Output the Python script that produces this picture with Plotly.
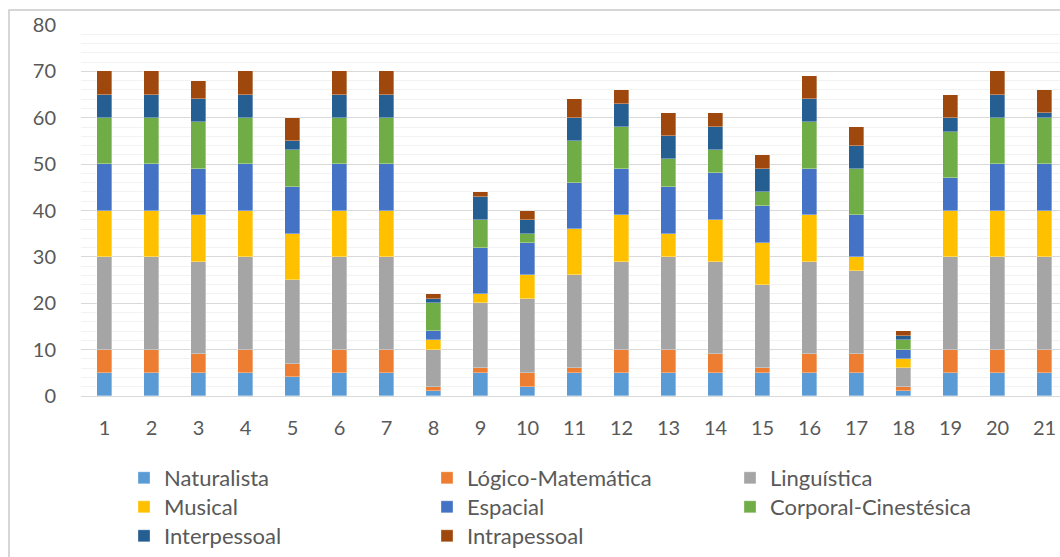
import plotly.graph_objects as go

# Respondentes (1..21) e pontuação por tipo de inteligência
categorias = list(range(1, 22))
rotulos_x = [str(c) for c in categorias]

naturalista = [5, 5, 5, 5, 4, 5, 5, 1, 5, 2, 5, 5, 5, 5, 5, 5, 5, 1, 5, 5, 5]
logico_matematica = [5, 5, 4, 5, 3, 5, 5, 1, 1, 3, 1, 5, 5, 4, 1, 4, 4, 1, 5, 5, 5]
linguistica = [20, 20, 20, 20, 18, 20, 20, 8, 14, 16, 20, 19, 20, 20, 18, 20, 18, 4, 20, 20, 20]
musical = [10, 10, 10, 10, 10, 10, 10, 2, 2, 5, 10, 10, 5, 9, 9, 10, 3, 2, 10, 10, 10]
espacial = [10, 10, 10, 10, 10, 10, 10, 2, 10, 7, 10, 10, 10, 10, 8, 10, 9, 2, 7, 10, 10]
corporal_cinestesica = [10, 10, 10, 10, 8, 10, 10, 6, 6, 2, 9, 9, 6, 5, 3, 10, 10, 2, 10, 10, 10]
interpessoal = [5, 5, 5, 5, 2, 5, 5, 1, 5, 3, 5, 5, 5, 5, 5, 5, 5, 1, 3, 5, 1]
intrapessoal = [5, 5, 4, 5, 5, 5, 5, 1, 1, 2, 4, 3, 5, 3, 3, 5, 4, 1, 5, 5, 5]

y_ticks = [0, 10, 20, 30, 40, 50, 60, 70, 80]

series = [
    ("Naturalista", naturalista, "#5B9BD5", "legend"),
    ("Lógico-Matemática", logico_matematica, "#ED7D31", "legend"),
    ("Linguística", linguistica, "#A5A5A5", "legend"),
    ("Musical", musical, "#FFC000", "legend2"),
    ("Espacial", espacial, "#4472C4", "legend2"),
    ("Corporal-Cinestésica", corporal_cinestesica, "#70AD47", "legend2"),
    ("Interpessoal", interpessoal, "#255E91", "legend3"),
    ("Intrapessoal", intrapessoal, "#9E480E", "legend3"),
]

FONT = "Lato"
TXT = "#595959"

W, H = 1060, 557
L, R, T, B = 81, 0, 25, 161
pw, ph = W - L - R, H - T - B
step = 47.0  # pixels per category


def px_x(x):
    return (x - L) / pw


def px_y(y):
    return (H - B - y) / ph


fig = go.Figure()
for nome, vals, cor, leg in series:
    fig.add_trace(go.Bar(
        x=categorias, y=vals, name=nome,
        marker=dict(color=cor, line=dict(color="rgba(255,255,255,0.55)", width=0.6)),
        width=0.32, legend=leg,
    ))

legend_common = dict(
    orientation="h", xanchor="left", yanchor="middle",
    font=dict(family=FONT, size=22, color=TXT),
    itemwidth=30, entrywidth=258, entrywidthmode="pixels",
    bgcolor="rgba(0,0,0,0)", traceorder="normal",
    itemclick=False, itemdoubleclick=False,
)

fig.update_layout(
    width=W, height=H,
    margin=dict(l=L, r=R, t=T, b=B, autoexpand=False),
    paper_bgcolor="white", plot_bgcolor="white",
    barmode="stack",
    bargap=0,
    showlegend=True,
    legend=dict(x=px_x(124), y=px_y(478), **legend_common),
    legend2=dict(x=px_x(124), y=px_y(507), **legend_common),
    legend3=dict(x=px_x(124), y=px_y(536), **legend_common),
    xaxis=dict(
        range=[0.5, 0.5 + pw / step],
        tickmode="array", tickvals=categorias, ticktext=rotulos_x,
        showgrid=False, zeroline=False, showline=False,
        ticks="outside", ticklen=14, tickcolor="rgba(0,0,0,0)",
        tickfont=dict(family=FONT, size=20, color=TXT),
        automargin=False,
    ),
    yaxis=dict(
        range=[0, 80],
        tickmode="array", tickvals=y_ticks,
        showgrid=True, gridcolor="#D9D9D9", gridwidth=1,
        minor=dict(dtick=2, showgrid=True, gridcolor="#F2F2F2", gridwidth=1),
        zeroline=True, zerolinecolor="#D9D9D9", zerolinewidth=1,
        showline=False,
        ticks="outside", ticklen=20, tickcolor="rgba(0,0,0,0)",
        tickfont=dict(family=FONT, size=20, color=TXT),
        automargin=False,
    ),
    shapes=[dict(
        type="rect", xref="paper", yref="paper",
        x0=px_x(9), x1=px_x(1075), y0=px_y(575), y1=px_y(10),
        line=dict(color="#C9C9C9", width=1.5), fillcolor="rgba(0,0,0,0)",
        layer="below",
    )],
)

fig.write_html("out.html")
